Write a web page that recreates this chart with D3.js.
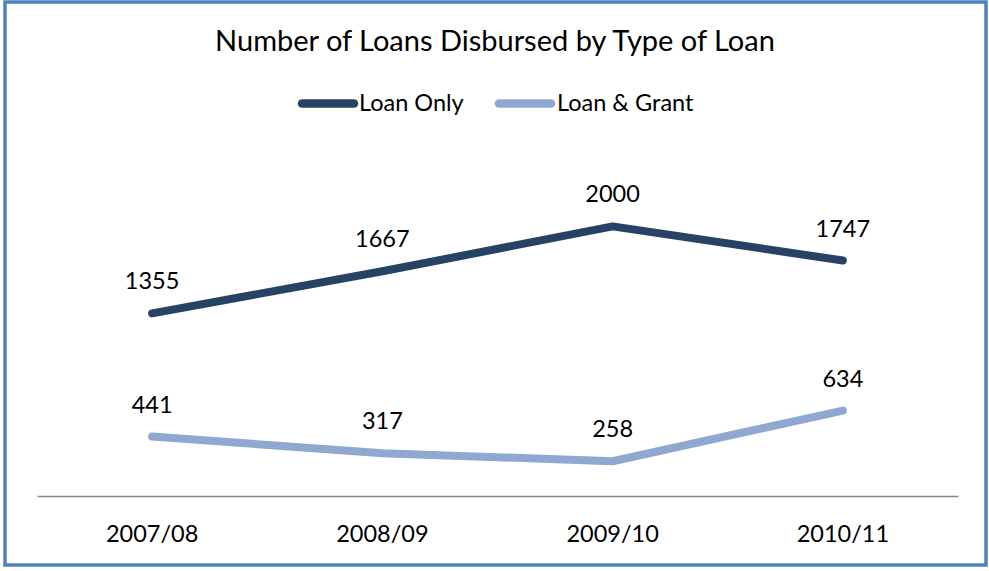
<!DOCTYPE html>
<html>
<head>
<meta charset="utf-8">
<script src="https://cdn.jsdelivr.net/npm/d3@7"></script>
<style>
  html, body { margin: 0; padding: 0; background: #fff; }
  svg { display: block; font-family: Lato, "Open Sans", sans-serif; }
</style>
</head>
<body>
<svg id="chart" width="989" height="571"></svg>
<script>
const categories = ["2007/08", "2008/09", "2009/10", "2010/11"];
const loanOnly = [1355, 1667, 2000, 1747];
const loanAndGrant = [441, 317, 258, 634];
const seriesNames = ["Loan Only", "Loan & Grant"];
const seriesColors = ["#264264", "#8EA8CF"];
const title = "Number of Loans Disbursed by Type of Loan";

const svg = d3.select("#chart");
const FONT = 23.5;

// Outer frame
svg.append("rect")
  .attr("x", 5).attr("y", 2).attr("width", 981).attr("height", 563)
  .attr("fill", "#fff").attr("stroke", "#4F81BD").attr("stroke-width", 3.5);

const plot = { left: 37, right: 958, top: 159, bottom: 496 };

const x = d3.scaleBand().domain(categories).range([plot.left, plot.right]);
const y = d3.scaleLinear().domain([0, 2500]).range([plot.bottom, plot.top]);

// Title
svg.append("text")
  .attr("x", 495).attr("y", 51)
  .attr("text-anchor", "middle")
  .attr("font-size", 29)
  .attr("fill", "#000")
  .text(title);

// Category axis
const xAxis = svg.append("g")
  .attr("transform", `translate(0,${plot.bottom})`)
  .call(d3.axisBottom(x).tickSize(0).tickPadding(0));
xAxis.select(".domain").attr("stroke", "#868686").attr("stroke-width", 1.3);
xAxis.selectAll(".tick text")
  .attr("dy", null).attr("y", 45.5)
  .attr("font-size", FONT).attr("font-family", "Lato, 'Open Sans', sans-serif")
  .attr("fill", "#000");

const series = [
  { name: seriesNames[0], values: loanOnly, color: seriesColors[0] },
  { name: seriesNames[1], values: loanAndGrant, color: seriesColors[1] }
];

const line = d3.line()
  .x((d, i) => x(categories[i]) + x.bandwidth() / 2)
  .y(d => y(d));

series.forEach(s => {
  svg.append("path")
    .datum(s.values)
    .attr("d", line)
    .attr("fill", "none")
    .attr("stroke", s.color)
    .attr("stroke-width", 8)
    .attr("stroke-linecap", "round")
    .attr("stroke-linejoin", "round");

  svg.append("g").selectAll("text")
    .data(s.values)
    .join("text")
    .attr("x", (d, i) => x(categories[i]) + x.bandwidth() / 2)
    .attr("y", d => y(d) - 24)
    .attr("text-anchor", "middle")
    .attr("font-size", FONT)
    .attr("fill", "#000")
    .text(d => d);
});

// Legend
const legendItems = [
  { x0: 298, tx: 359 },
  { x0: 495, tx: 557 }
];
series.forEach((s, i) => {
  const g = svg.append("g");
  g.append("line")
    .attr("x1", legendItems[i].x0 + 4).attr("x2", legendItems[i].x0 + 56)
    .attr("y1", 103.5).attr("y2", 103.5)
    .attr("stroke", s.color).attr("stroke-width", 8.5)
    .attr("stroke-linecap", "round");
  g.append("text")
    .attr("x", legendItems[i].tx).attr("y", 111)
    .attr("font-size", FONT).attr("fill", "#000")
    .text(s.name);
});
</script>
</body>
</html>
